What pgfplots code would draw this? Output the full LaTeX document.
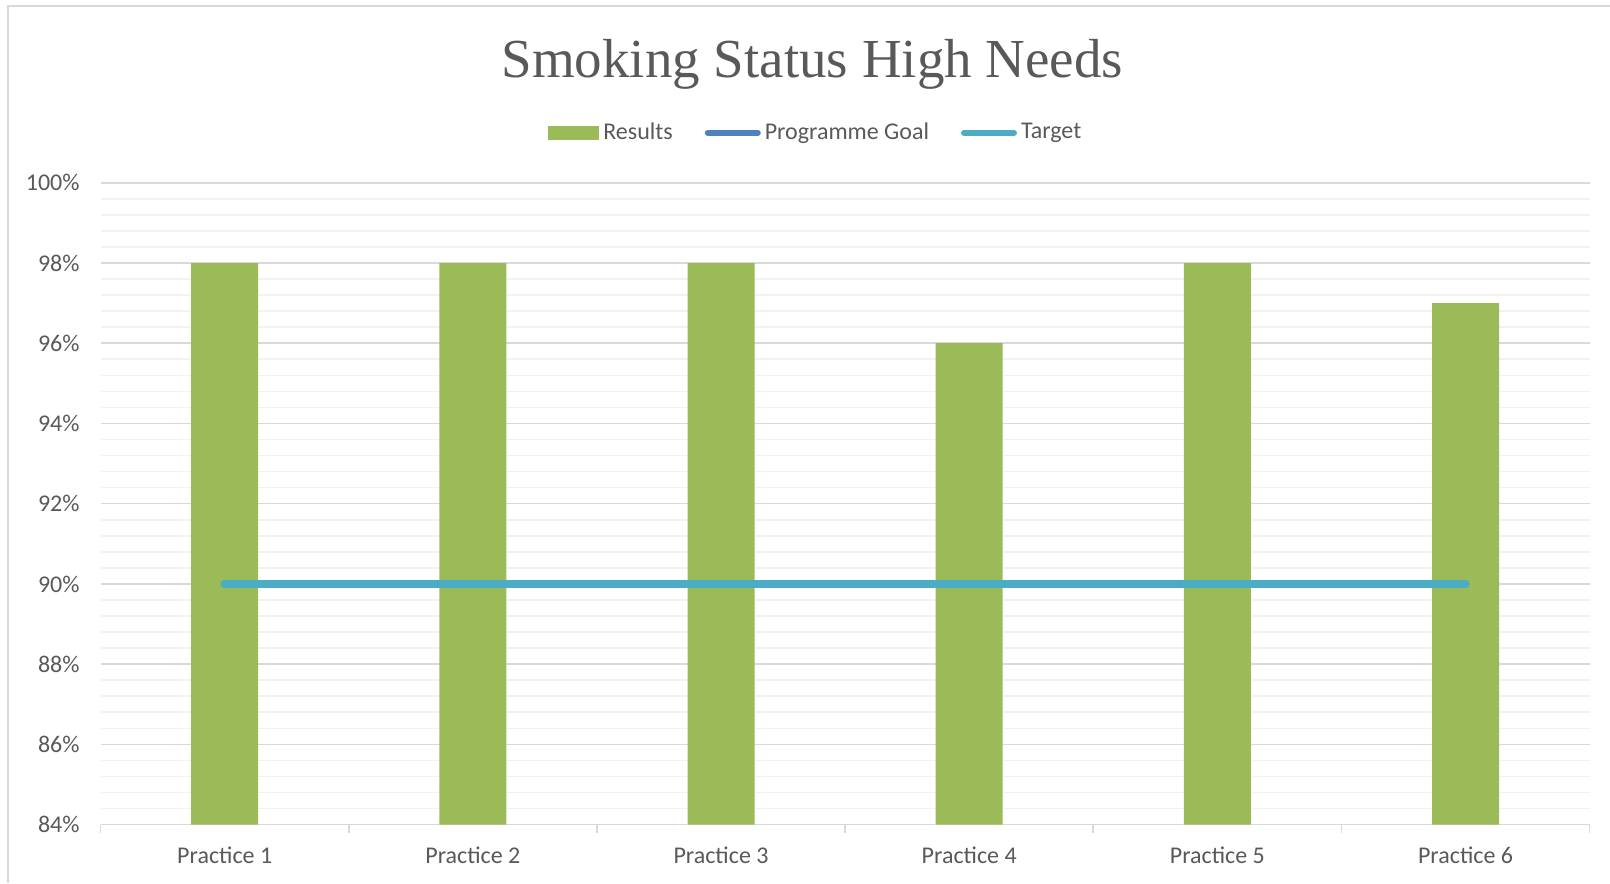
\documentclass[border=0pt]{standalone}
\usepackage{pgfplots}
\pgfplotsset{compat=1.18}
\usepackage{fontspec}
\setmainfont{Carlito}
\newfontfamily\titlefont{Liberation Serif}
\definecolor{barc}{HTML}{9BBB59}
\definecolor{goalc}{HTML}{4F81BD}
\definecolor{targc}{HTML}{4BACC6}
\definecolor{txt}{HTML}{595959}
\definecolor{majg}{HTML}{D9D9D9}
\definecolor{ming}{HTML}{F2F2F2}
\pgfplotstableread{
x y
0 98
1 98
2 98
3 96
4 98
5 97
}\results
\pgfplotstableread{
x y
0 90
1 90
2 90
3 90
4 90
5 90
}\goal
\pgfplotstableread{
x y
0 90
1 90
2 90
3 90
4 90
5 90
}\target
\begin{document}
\begin{tikzpicture}
\useasboundingbox (0,0) rectangle (805pt,441.5pt);
\draw[majg, line width=1pt] (4pt,0) -- (4pt,438.5pt) -- (805pt,438.5pt);
\begin{axis}[
  at={(50.3pt,29.2pt)}, anchor=south west,
  width=744.5pt, height=320.9pt, scale only axis,
  xmin=-0.5, xmax=5.5, ymin=84, ymax=100,
  xtick={0,...,5},
  xticklabels={Practice 1,Practice 2,Practice 3,Practice 4,Practice 5,Practice 6},
  minor xtick={-0.5,0.5,...,5.5},
  ytick={84,86,...,100},
  minor ytick={84.4,84.8,...,99.7},
  yticklabel={\pgfmathprintnumber{\tick}\%},
  /pgf/number format/assume math mode=true,
  tick align=outside,
  major tick length=0pt,
  minor tick length=4pt,
  minor x tick style={draw=majg, line width=0.8pt},
  minor y tick style={draw=none},
  ymajorgrids, yminorgrids,
  major grid style={draw=majg, line width=0.8pt},
  minor grid style={draw=ming, line width=0.8pt},
  axis y line*=left,
  axis x line*=bottom,
  y axis line style={draw=none},
  x axis line style={draw=majg, line width=0.8pt, -},
  tick label style={font=\fontsize{12}{14}\selectfont, text=txt},
  yticklabel style={xshift=-7pt},
  xticklabel style={yshift=-7.6pt},
  title={\titlefont\fontsize{27.5}{32}\selectfont Smoking Status High Needs},
  title style={at={(0.478,1.166)}, anchor=center, text=txt},
  legend style={at={(0.481,1.078)}, anchor=center, draw=none, fill=none,
    legend columns=3, font=\fontsize{12}{14}\selectfont, text=txt,
    /tikz/every even column/.append style={column sep=14pt},
    legend cell align=left},
  clip=true,
]
\addplot[ybar, bar width=0.27, fill=barc, draw=none,
  legend image code/.code={\fill[barc] (0pt,-3.5pt) rectangle (25.5pt,3.5pt);}]
  table[x=x,y=y] {\results};
\addlegendentry{Results}
\addplot[goalc, line width=3.8pt, line cap=round, mark=none,
  legend image code/.code={\draw[goalc, line width=3pt, line cap=round] (1.5pt,0pt) -- (26.5pt,0pt);}]
  table[x=x,y=y] {\goal};
\addlegendentry{Programme Goal}
\addplot[targc, line width=3.8pt, line cap=round, mark=none,
  legend image code/.code={\draw[targc, line width=3pt, line cap=round] (1.5pt,0pt) -- (26.5pt,0pt);}]
  table[x=x,y=y] {\target};
\addlegendentry{Target}
\end{axis}
\end{tikzpicture}
\end{document}
